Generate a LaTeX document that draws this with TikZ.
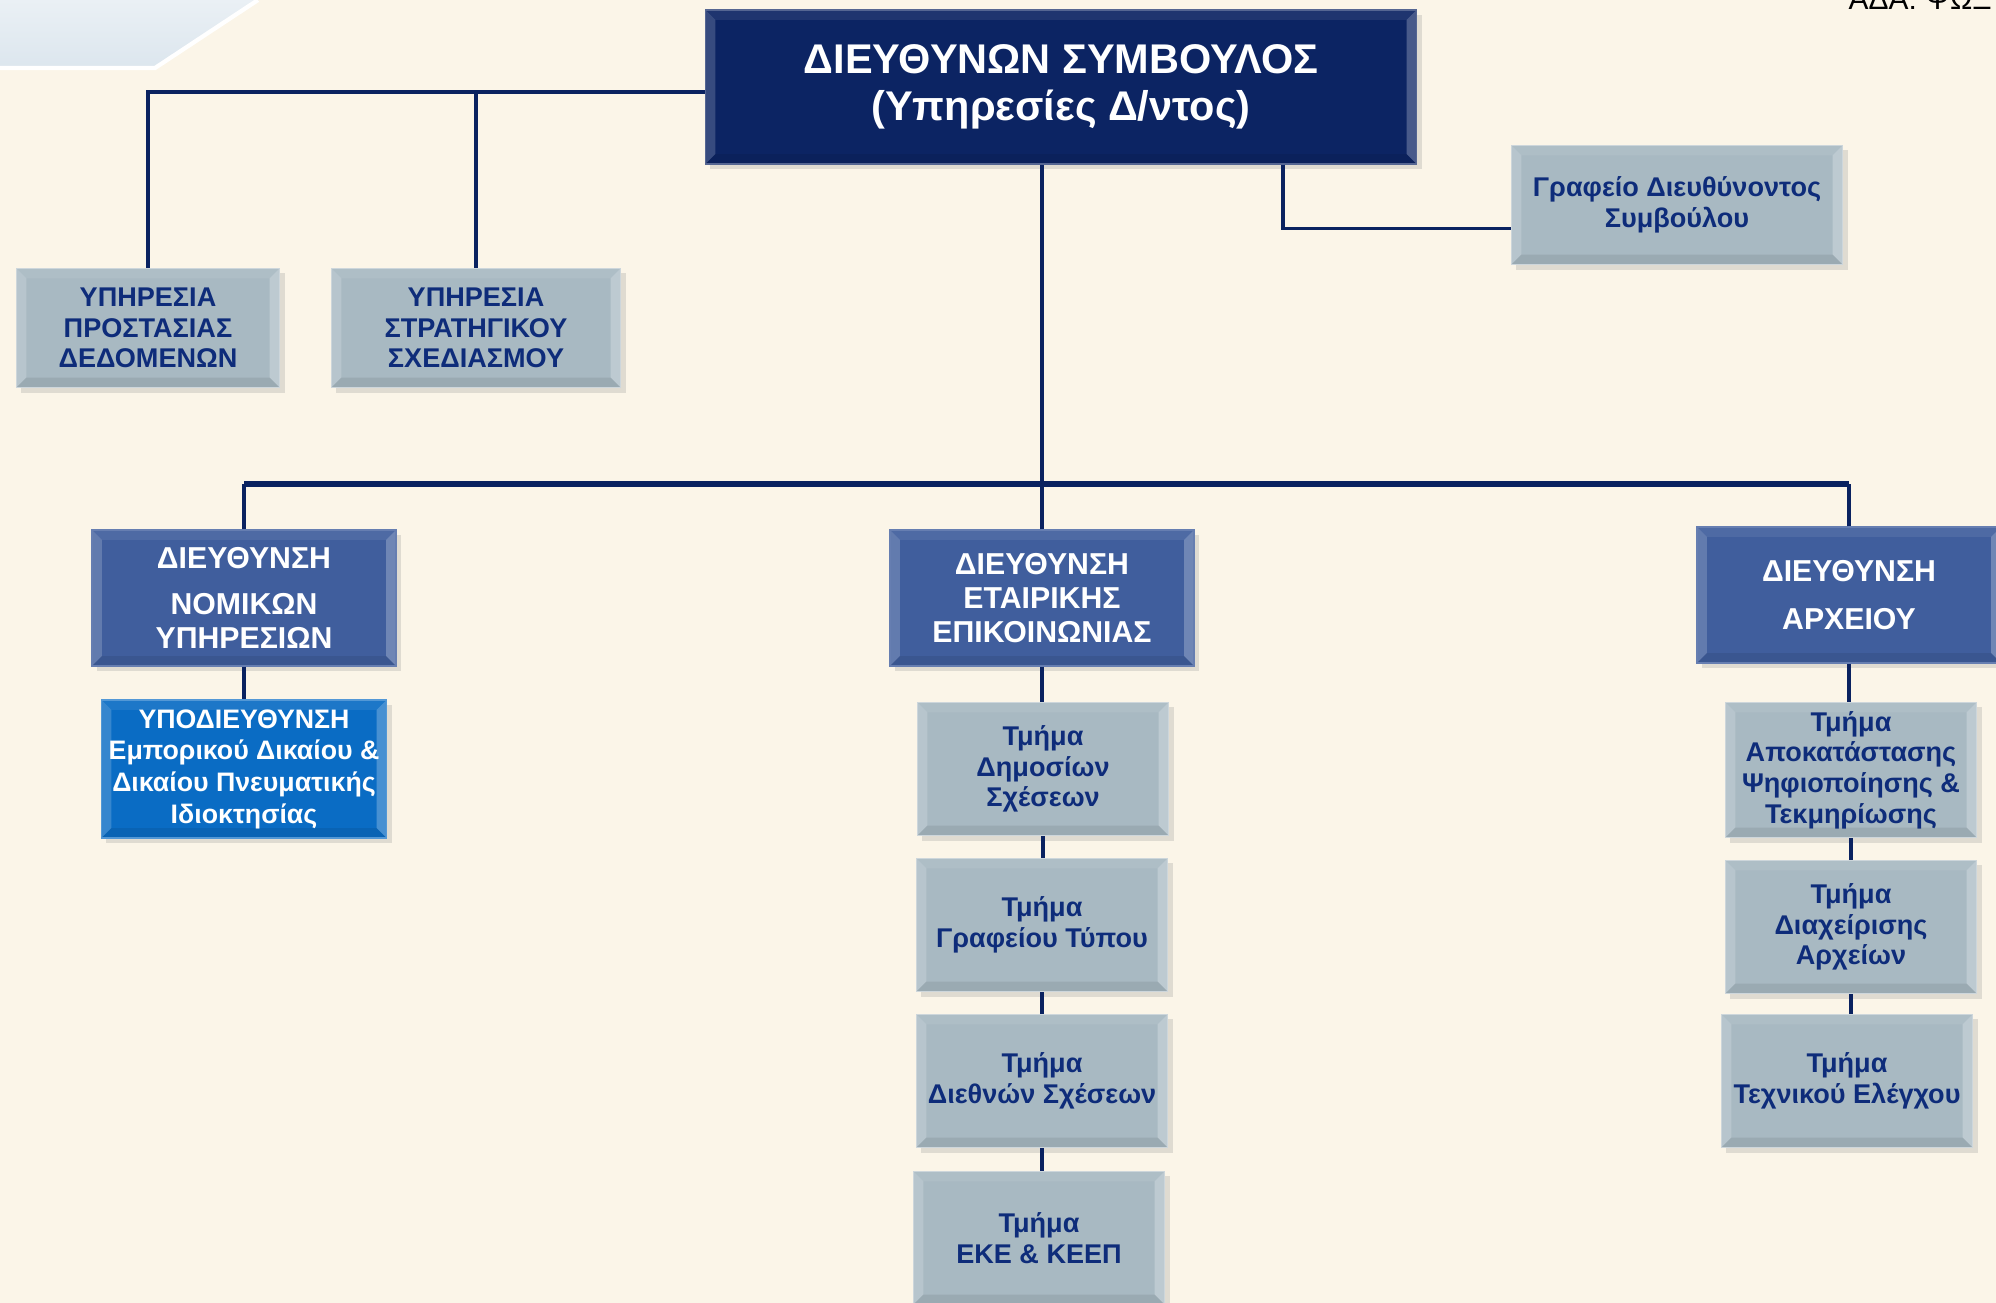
\documentclass[tikz,border=0pt]{standalone}
\usepackage{fontspec}
\setmainfont{Liberation Sans}
\usetikzlibrary{shadows}

\definecolor{bgcream}{RGB}{251,245,232}
\definecolor{navy}{RGB}{12,36,99}
\definecolor{linenavy}{RGB}{10,34,96}
\definecolor{boxgray}{RGB}{168,185,194}
\definecolor{grayedge}{RGB}{205,214,219}
\definecolor{midblue}{RGB}{64,94,157}
\definecolor{brightblue}{RGB}{10,108,196}
\definecolor{textnavy}{RGB}{14,44,122}
\definecolor{cornerblue}{RGB}{220,230,238}

\tikzset{
  bevel/.style={path picture={
    \fill[white,opacity=.18] (path picture bounding box.north west) -- ([shift={(0.1cm,-0.1cm)}]path picture bounding box.north west) -- ([shift={(0.1cm,0.1cm)}]path picture bounding box.south west) -- (path picture bounding box.south west) -- cycle;
    \fill[white,opacity=.25] (path picture bounding box.north east) -- ([shift={(-0.1cm,-0.1cm)}]path picture bounding box.north east) -- ([shift={(-0.1cm,0.1cm)}]path picture bounding box.south east) -- (path picture bounding box.south east) -- cycle;
    \fill[white,opacity=.08] (path picture bounding box.north west) -- ([shift={(0.1cm,-0.1cm)}]path picture bounding box.north west) -- ([shift={(-0.1cm,-0.1cm)}]path picture bounding box.north east) -- (path picture bounding box.north east) -- cycle;
    \fill[black,opacity=.08] (path picture bounding box.south west) -- ([shift={(0.1cm,0.1cm)}]path picture bounding box.south west) -- ([shift={(-0.1cm,0.1cm)}]path picture bounding box.south east) -- (path picture bounding box.south east) -- cycle;
  }},
  box/.style={rectangle, align=center, inner sep=1pt, bevel,
    drop shadow={shadow xshift=0.05cm, shadow yshift=-0.05cm, opacity=.22}},
  graybox/.style={box, fill=boxgray, draw=grayedge, text=textnavy,
    font=\bfseries\fontsize{7.7}{8.7}\selectfont},
  bluebox/.style={box, fill=midblue, draw=midblue!80!white, text=white,
    font=\bfseries\fontsize{8.6}{9.7}\selectfont, minimum width=3.04cm, minimum height=1.36cm},
  tmima/.style={graybox, minimum width=2.51cm, minimum height=1.33cm},
  conn/.style={draw=linenavy, line width=1.1pt}
}

\begin{document}
\begin{tikzpicture}[x=0.01cm,y=-0.01cm]
  \useasboundingbox (0,0) rectangle (1996,1303);
  \fill[bgcream] (0,0) rectangle (1996,1303);
  \fill[top color=cornerblue!60!white, bottom color=cornerblue] (0,0) -- (258,0) -- (155,68) -- (0,68) -- cycle;
  \draw[white,line width=1.2pt] (258,0) -- (155,68) -- (0,68);
  \node[anchor=base west, inner sep=0pt, font=\fontsize{8.5}{10}\selectfont] (ada) at (1848,10) {ΑΔΑ: ΨΩΞ};

  % top level
  \node[box, fill=navy, draw=navy!70!white, text=white, minimum width=7.11cm, minimum height=1.54cm,
    font=\bfseries\fontsize{11.8}{13.4}\selectfont] (ceo) at (1061,87) {ΔΙΕΥΘΥΝΩΝ ΣΥΜΒΟΥΛΟΣ\\(Υπηρεσίες Δ/ντος)};
  \node[graybox, minimum width=2.63cm, minimum height=1.19cm] (dpo) at (148,328) {ΥΠΗΡΕΣΙΑ\\ΠΡΟΣΤΑΣΙΑΣ\\ΔΕΔΟΜΕΝΩΝ};
  \node[graybox, minimum width=2.89cm, minimum height=1.19cm] (strat) at (476,328) {ΥΠΗΡΕΣΙΑ\\ΣΤΡΑΤΗΓΙΚΟΥ\\ΣΧΕΔΙΑΣΜΟΥ};
  \node[graybox, minimum width=3.31cm, minimum height=1.19cm] (office) at (1677,205) {Γραφείο Διευθύνοντος\\Συμβούλου};

  % directorates
  \node[bluebox] (legal) at (244,598) {ΔΙΕΥΘΥΝΣΗ\\[3.5pt]ΝΟΜΙΚΩΝ\\ΥΠΗΡΕΣΙΩΝ};
  \node[bluebox] (comm) at (1042,598) {ΔΙΕΥΘΥΝΣΗ\\ΕΤΑΙΡΙΚΗΣ\\ΕΠΙΚΟΙΝΩΝΙΑΣ};
  \node[bluebox] (arch) at (1849,595) {ΔΙΕΥΘΥΝΣΗ\\[4pt]ΑΡΧΕΙΟΥ};
  \node[box, fill=brightblue, draw=brightblue!70!white, text=white, minimum width=2.85cm, minimum height=1.38cm,
    font=\bfseries\fontsize{7.6}{9}\selectfont] (subdir) at (244,769) {ΥΠΟΔΙΕΥΘΥΝΣΗ\\Εμπορικού Δικαίου \&\\Δικαίου Πνευματικής\\Ιδιοκτησίας};

  % departments
  \node[tmima] (t1) at (1043,769) {Τμήμα\\Δημοσίων\\Σχέσεων};
  \node[tmima] (t2) at (1042,925) {Τμήμα\\Γραφείου Τύπου};
  \node[tmima] (t3) at (1042,1081) {Τμήμα\\Διεθνών Σχέσεων};
  \node[tmima] (t4) at (1039,1238) {Τμήμα\\ΕΚΕ \& ΚΕΕΠ};
  \node[tmima, minimum height=1.35cm] (a1) at (1851,770) {Τμήμα\\Αποκατάστασης\\Ψηφιοποίησης \&\\Τεκμηρίωσης};
  \node[tmima] (a2) at (1851,927) {Τμήμα\\Διαχείρισης\\Αρχείων};
  \node[tmima] (a3) at (1847,1081) {Τμήμα\\Τεχνικού Ελέγχου};

  % connectors
  \coordinate (bar) at (0,484);
  \coordinate (ceoleft) at ([yshift=-0.05cm]ceo.west);
  \draw[conn] (ceoleft) -| (dpo.north);
  \draw[conn] (strat.north) -- (strat.north |- ceoleft);
  \draw[conn] ([xshift=2.22cm]ceo.south) |- ([yshift=-0.235cm]office.west);
  \draw[conn] (comm.north) -- (comm.north |- ceo.south);
  \draw[conn, line width=1.6pt] (legal.north |- bar) -- (arch.north |- bar);
  \draw[conn] (legal.north) -- (legal.north |- bar);
  \draw[conn] (arch.north) -- (arch.north |- bar);
  \draw[conn] (legal.south) -- (subdir.north);
  \draw[conn] (comm.south) -- (comm.south |- t1.north);
  \draw[conn] (t1.south) -- (t1.south |- t2.north);
  \draw[conn] (t2.south) -- (t2.south |- t3.north);
  \draw[conn] (t3.south) -- (t3.south |- t4.north);
  \draw[conn] (arch.south) -- (arch.south |- a1.north);
  \draw[conn] (a1.south) -- (a1.south |- a2.north);
  \draw[conn] (a2.south) -- (a2.south |- a3.north);
\end{tikzpicture}
\end{document}
